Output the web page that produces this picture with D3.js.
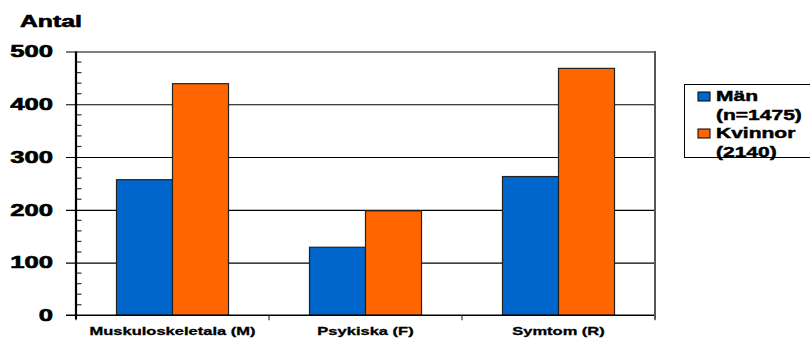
<!DOCTYPE html>
<html><head><meta charset="utf-8">
<script src="https://cdn.jsdelivr.net/npm/d3@7"></script>
<style>
html,body{margin:0;padding:0;background:#fff;}
text{font-family:"Liberation Sans",Arial,sans-serif;font-weight:bold;fill:#000;stroke:#000;stroke-width:0.45px;}
</style></head>
<body><svg id="c" width="810" height="338"></svg>
<script>
const categories = ["Muskuloskeletala (M)", "Psykiska (F)", "Symtom (R)"];
const seriesNames = ["Män", "Kvinnor"];
const legendLines = [["Män", "(n=1475)"], ["Kvinnor", "(2140)"]];
const menValues = [257, 129, 263];
const womenValues = [439, 198, 468];
const yTicks = [0, 100, 200, 300, 400, 500];
const colors = ["#0066CC", "#FF6600"];

(function () {
const svg = d3.select("#c");
const pL = 76, pR = 655, pT = 51.5, pB = 315.3;
const SX = 1.5;

const x = d3.scaleBand().domain(categories).range([pL, pR]).padding(0);
const xs = d3.scaleBand().domain(seriesNames).range([0, x.bandwidth()]).paddingInner(0).paddingOuter(0.723);
const y = d3.scaleLinear().domain([0, 500]).range([pB, pT]);

const grid = d3.axisLeft(y).tickValues(yTicks.slice(1)).tickSize(-(pR - pL) - 10).tickFormat("");
svg.append("g").attr("transform", `translate(${pL - 10},0)`).call(grid)
  .call(g => g.select(".domain").remove())
  .call(g => g.selectAll("line").attr("stroke", "#000").attr("stroke-width", 1.2));

const minor = d3.range(0, 501, 20).filter(v => v % 100 !== 0);
svg.append("g").selectAll("line").data(minor).join("line")
  .attr("x1", pL).attr("x2", pL + 5.5)
  .attr("y1", d => y(d)).attr("y2", d => y(d))
  .attr("stroke", "#333").attr("stroke-width", 1.2);

const data = categories.map((c, i) => ({c, vals: [menValues[i], womenValues[i]]}));
const groups = svg.append("g").selectAll("g").data(data).join("g")
  .attr("transform", d => `translate(${x(d.c)},0)`);
groups.selectAll("rect").data(d => d.vals.map((v, j) => ({s: seriesNames[j], v, j}))).join("rect")
  .attr("x", d => xs(d.s)).attr("width", xs.bandwidth())
  .attr("y", d => y(d.v)).attr("height", d => y(0) - y(d.v))
  .attr("fill", d => colors[d.j])
  .attr("stroke", "#222").attr("stroke-width", 1.2);

svg.append("line").attr("x1", pL - 10).attr("x2", pR + 1).attr("y1", y(0)).attr("y2", y(0))
  .attr("stroke", "#000").attr("stroke-width", 1.5);
const bounds = categories.map(c => x(c)).concat([pR]);
svg.append("g").selectAll("line").data(bounds).join("line")
  .attr("x1", d => d).attr("x2", d => d).attr("y1", y(0)).attr("y2", y(0) + 5)
  .attr("stroke", "#333").attr("stroke-width", 1.2);

svg.append("line").attr("x1", pL).attr("x2", pL).attr("y1", pT).attr("y2", pB + 4)
  .attr("stroke", "#000").attr("stroke-width", 2.2);
svg.append("line").attr("x1", pR).attr("x2", pR).attr("y1", pT - 0.6).attr("y2", pB + 4)
  .attr("stroke", "#555").attr("stroke-width", 2);

function stext(xp, yp, str, size, anchor, sx, sw) {
  const t = svg.append("text").attr("transform", `translate(${xp},${yp}) scale(${sx || SX},1)`)
    .attr("text-anchor", anchor || "start").style("font-size", size + "px").text(str);
  if (sw !== undefined) t.style("stroke-width", sw + "px");
}

yTicks.forEach(v => stext(53, y(v) + 5.8, String(v), 16, "end", 1.6, 0.6));
stext(20, 27, "Antal", 16.5, "start", 1.5, 0.6);
categories.forEach(c => stext(x(c) + x.bandwidth() / 2, 335, c, 11, "middle", 1.5, 0.3));

svg.append("rect").attr("x", 684.5).attr("y", 84.5).attr("width", 140).attr("height", 73)
  .attr("fill", "#fff").attr("stroke", "#000").attr("stroke-width", 1);
const ly = [92, 129];
legendLines.forEach((lines, i) => {
  svg.append("rect").attr("x", 698).attr("y", ly[i]).attr("width", 12).attr("height", 9)
    .attr("fill", colors[i]).attr("stroke", "#000").attr("stroke-width", 1);
  stext(716, ly[i] + 9, lines[0], 14.5, "start", 1.45, 0.45);
  stext(716, ly[i] + 27.5, lines[1], 14.5, "start", 1.45, 0.45);
});
})();
</script></body></html>
